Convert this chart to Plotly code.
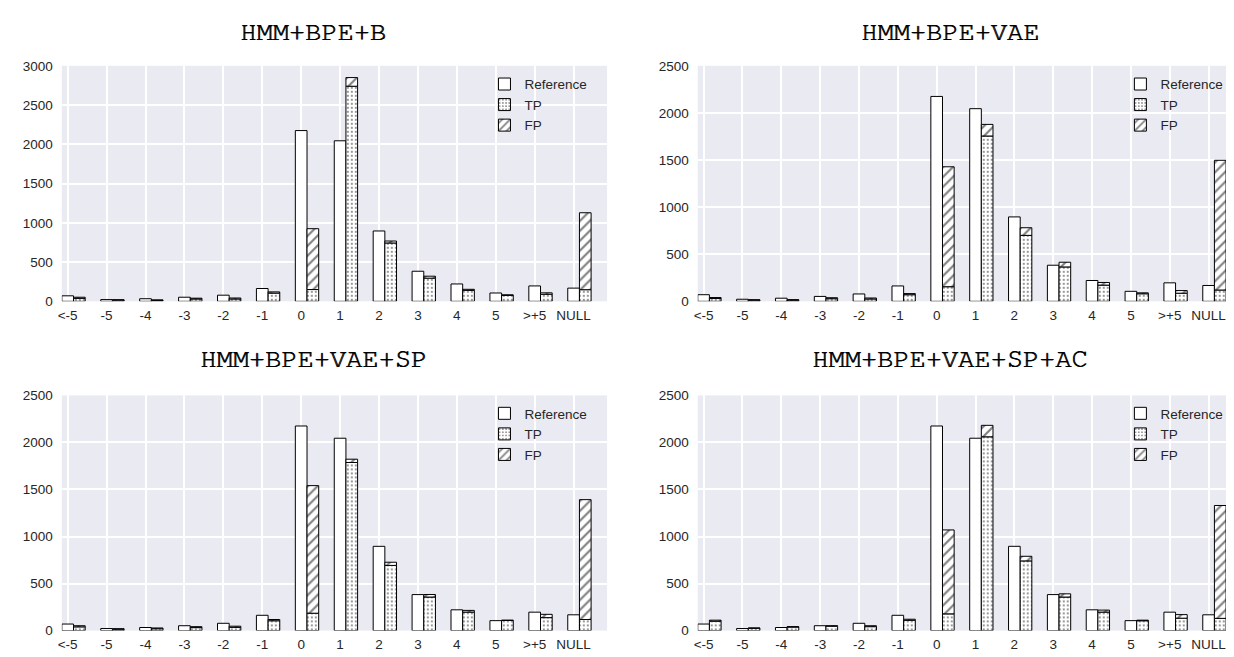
import plotly.graph_objects as go

# ---------------- data ----------------
categories = ["&lt;-5", "-5", "-4", "-3", "-2", "-1", "0", "1", "2", "3", "4", "5", "&gt;+5", "NULL"]

reference = [70, 22, 33, 52, 78, 163, 2175, 2045, 896, 383, 221, 106, 196, 168]

tp_b = [38, 15, 12, 30, 30, 105, 150, 2740, 743, 295, 140, 75, 90, 148]
fp_b = [14, 5, 6, 10, 12, 15, 775, 110, 25, 25, 13, 8, 18, 980]

tp_vae = [30, 12, 13, 28, 25, 70, 155, 1755, 700, 365, 172, 80, 86, 120]
fp_vae = [10, 5, 4, 10, 10, 12, 1273, 123, 81, 50, 28, 10, 28, 1377]

tp_sp = [40, 15, 20, 32, 35, 105, 185, 1787, 693, 357, 197, 108, 138, 118]
fp_sp = [12, 5, 8, 10, 12, 13, 1356, 35, 34, 27, 18, 3, 35, 1274]

tp_ac = [100, 25, 38, 47, 42, 110, 178, 2060, 741, 357, 197, 105, 132, 130]
fp_ac = [11, 3, 4, 5, 10, 11, 892, 122, 49, 34, 21, 6, 38, 1200]

titles = ["HMM+BPE+B", "HMM+BPE+VAE", "HMM+BPE+VAE+SP", "HMM+BPE+VAE+SP+AC"]
tp_series = [tp_b, tp_vae, tp_sp, tp_ac]
fp_series = [fp_b, fp_vae, fp_sp, fp_ac]
y_max = [3000, 2500, 2500, 2500]
y_ticks_list = [[0, 500, 1000, 1500, 2000, 2500, 3000], [0, 500, 1000, 1500, 2000, 2500],
                [0, 500, 1000, 1500, 2000, 2500], [0, 500, 1000, 1500, 2000, 2500]]

# ---------------- layout geometry ----------------
W, H = 1234, 657
x_domains = [(50 / W, 597 / W), (688 / W, 1.0), (50 / W, 597 / W), (688 / W, 1.0)]
y_domains = [(1 - 293 / H, 1 - 52 / H), (1 - 293 / H, 1 - 52 / H),
             (1 - 630 / H, 1 - 389.3 / H), (1 - 630 / H, 1 - 389.3 / H)]
title_pos = [(302 / W, 1 - 17 / H), (941 / W, 1 - 17 / H),
             (302 / W, 1 - 352 / H), (941 / W, 1 - 352 / H)]
legend_pos = [(474 / W, 1 - 55 / H), (1112 / W, 1 - 55 / H),
              (474 / W, 1 - 392 / H), (1112 / W, 1 - 392 / H)]

BG = "#EAEAF2"
TXT = "#262626"
tick_font = dict(family="Liberation Sans, Arial, sans-serif", size=13.5, color=TXT)

idx = list(range(len(categories)))
bar_w = 0.3

fig = go.Figure()
layout = dict(
    width=W, height=H,
    paper_bgcolor="white", plot_bgcolor=BG,
    margin=dict(l=0, r=0, t=0, b=0),
    barmode="overlay",
    annotations=[],
)

for k in range(4):
    xa = "x" if k == 0 else f"x{k + 1}"
    ya = "y" if k == 0 else f"y{k + 1}"
    lg = "legend" if k == 0 else f"legend{k + 1}"
    tp = tp_series[k]
    fp = fp_series[k]

    fig.add_trace(go.Bar(
        x=idx, y=reference, width=bar_w, offset=-bar_w / 2,
        name="Reference", xaxis=xa, yaxis=ya, legend=lg,
        marker=dict(color="white", line=dict(color="black", width=1)),
    ))
    fig.add_trace(go.Bar(
        x=idx, y=tp, width=bar_w, offset=bar_w / 2,
        name="TP", xaxis=xa, yaxis=ya, legend=lg,
        marker=dict(color="white", line=dict(color="black", width=1),
                    pattern=dict(shape=".", fgcolor="black", bgcolor="white",
                                 fillmode="overlay", size=4, solidity=0.22)),
    ))
    fig.add_trace(go.Bar(
        x=idx, y=fp, base=tp, width=bar_w, offset=bar_w / 2,
        name="FP", xaxis=xa, yaxis=ya, legend=lg,
        marker=dict(color="white", line=dict(color="black", width=1),
                    pattern=dict(shape="/", fgcolor="black", bgcolor="white",
                                 fillmode="overlay", size=7, solidity=0.3)),
    ))

    xkey = "xaxis" if k == 0 else f"xaxis{k + 1}"
    ykey = "yaxis" if k == 0 else f"yaxis{k + 1}"
    layout[xkey] = dict(
        domain=list(x_domains[k]), anchor=ya,
        range=[-0.15, 13.86], tickmode="array", tickvals=idx, ticktext=categories,
        showgrid=True, gridcolor="white", gridwidth=1.5,
        zeroline=False, showline=False, ticks="", tickfont=tick_font,
        ticklabelstandoff=4,
    )
    layout[ykey] = dict(
        domain=list(y_domains[k]), anchor=xa,
        range=[0, y_max[k]], tickmode="array", tickvals=y_ticks_list[k],
        showgrid=True, gridcolor="white", gridwidth=1.5,
        zeroline=False, showline=False, ticks="", tickfont=tick_font,
        ticklabelstandoff=8,
    )
    layout[lg] = dict(
        x=legend_pos[k][0], y=legend_pos[k][1], xanchor="left", yanchor="top",
        bgcolor="rgba(0,0,0,0)", borderwidth=0,
        font=dict(family="Liberation Sans, Arial, sans-serif", size=13.5, color=TXT),
        traceorder="normal", itemwidth=30, tracegroupgap=0,
    )
    layout["annotations"].append(dict(
        text=titles[k], xref="paper", yref="paper",
        x=title_pos[k][0], y=title_pos[k][1], xanchor="center", yanchor="middle",
        showarrow=False,
        font=dict(family="FreeMono, Nimbus Mono PS, Courier, monospace", size=27,
                  color="black", shadow="0.8px 0px 0px black"),
    ))

fig.update_layout(**layout)
fig.write_html("out.html")
